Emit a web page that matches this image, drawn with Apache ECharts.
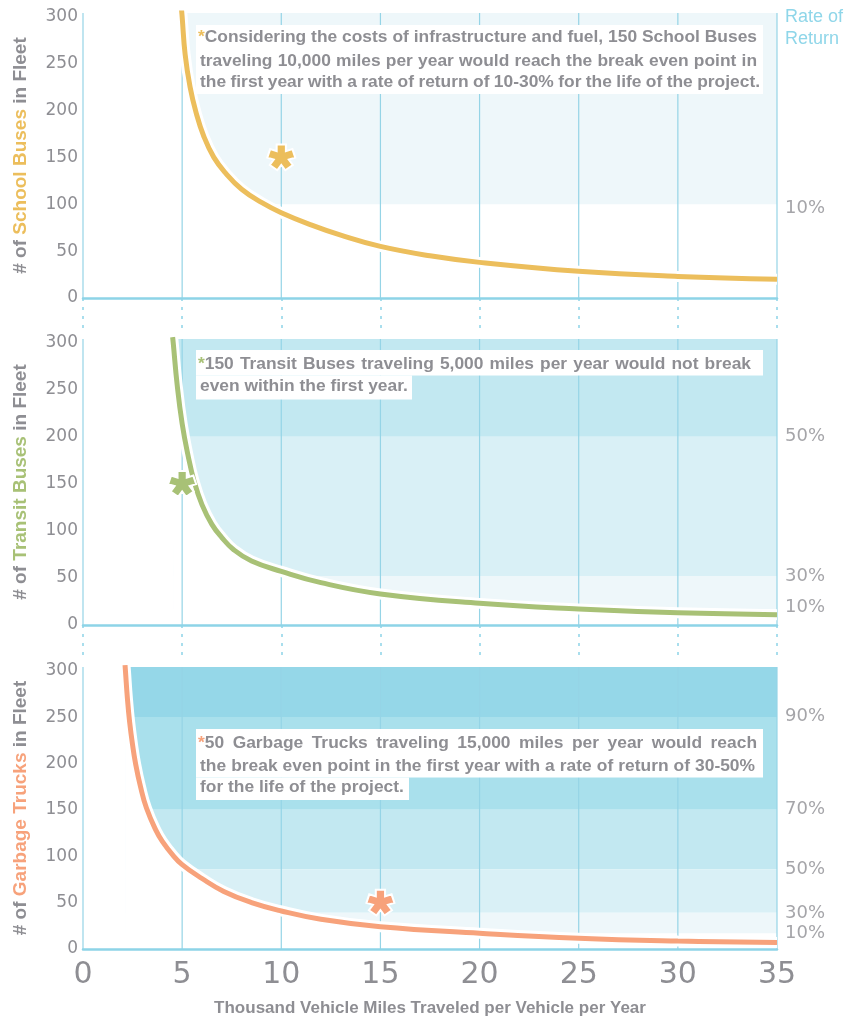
<!DOCTYPE html>
<html><head><meta charset="utf-8">
<script src="https://cdn.jsdelivr.net/npm/echarts@6/dist/echarts.min.js"></script>
<style>html,body{margin:0;padding:0;background:#fff}#c{width:850px;height:1018px}</style>
</head><body><div id="c"></div><script>
// ---------- data ----------
const xTicks = [0, 5, 10, 15, 20, 25, 30, 35];
const yTicks = [0, 50, 100, 150, 200, 250, 300];

const schoolX = [4.95, 5.0, 5.15, 5.4, 5.7, 6.1, 6.6, 7.2, 8.0, 9.0, 10, 11.5, 13, 15, 17.5, 20, 25, 30, 35];
const schoolY = [312, 300, 260, 225, 198, 172, 150, 133, 116, 102, 91, 78, 67, 55, 45, 38, 28.5, 23, 20];

const transitX = [4.52, 4.55, 4.75, 5.0, 5.3, 5.6, 6.0, 6.5, 7.0, 7.6, 8.5, 10, 12, 15, 20, 25, 30, 35];
const transitY = [306, 300, 255, 214, 180, 153, 128, 107, 93, 80, 68, 57, 45, 33, 23, 17, 13, 11];

const garbageX = [2.12, 2.14, 2.24, 2.35, 2.5, 2.65, 2.9, 3.2, 3.7, 4.0, 4.5, 5, 6, 7.1, 8.5, 10, 12, 15, 20, 25, 30, 35];
const garbageY = [306, 300, 270, 245, 220, 200, 175, 152, 127, 116, 102, 91, 76, 62, 50, 41, 32, 24, 17, 11.5, 8.5, 7];

// rate-of-return bands [lower, upper]
const schoolBands = [[100, 304]];
const transitBands = [[200, 304], [52, 200], [17, 52]];
const garbageBands = [[250, 304], [150, 250], [86, 150], [39, 86], [17, 39]];
const schoolBandColors = ['#eef7fa'];
const transitBandColors = ['#c2e8f1', '#d9f0f6', '#eef7fa'];
const garbageBandColors = ['#95d7e8', '#a9e0ec', '#c2e8f1', '#d9f0f6', '#eef7fa'];

const schoolRateLevels = [96];
const schoolRateLabels = ['10%'];
const transitRateLevels = [200.5, 52, 19];
const transitRateLabels = ['50%', '30%', '10%'];
const garbageRateLevels = [250.5, 150.5, 85.7, 38.7, 17.4];
const garbageRateLabels = ['90%', '70%', '50%', '30%', '10%'];

const schoolStar = [10, 150];
const transitStar = [5, 150];
const garbageStar = [15, 50];

const schoolNote = [
  'Considering the costs of infrastructure and fuel, 150 School Buses',
  'traveling 10,000 miles per year would reach the break even point in',
  'the first year with a rate of return of 10-30% for the life of the project.'
];
const transitNote = [
  '150 Transit Buses traveling 5,000 miles per year would not break',
  'even within the first year.'
];
const garbageNote = [
  '50 Garbage Trucks traveling 15,000 miles per year would reach',
  'the break even point in the first year with a rate of return of 30-50%',
  'for the life of the project.'
];

// ---------- style ----------
const GRAY = '#8e8e93';
const BLUE = '#8dd4e7';
const GRID_LINE = '#95d4e6';
const YELLOW = '#ecbe5c', GREEN = '#a8c176', ORANGE = '#f7a27b';
const X_MIN = 0, X_MAX = 35, Y_MAX = 304;
const NUM_FONT = 'DejaVu Sans';
const TXT_FONT = 'Liberation Sans';
const SMOOTH = 0.45;

const panels = [
  {top: 13, height: 285, x: schoolX, y: schoolY, bands: schoolBands, colors: schoolBandColors,
   rl: schoolRateLevels, rt: schoolRateLabels, star: schoolStar, color: YELLOW, name: 'School Buses'},
  {top: 339, height: 286, x: transitX, y: transitY, bands: transitBands, colors: transitBandColors,
   rl: transitRateLevels, rt: transitRateLabels, star: transitStar, color: GREEN, name: 'Transit Buses'},
  {top: 667, height: 286, x: garbageX, y: garbageY, bands: garbageBands, colors: garbageBandColors,
   rl: garbageRateLevels, rt: garbageRateLabels, star: garbageStar, color: ORANGE, name: 'Garbage Trucks'}
];

// 5-armed asterisk symbol
function asteriskPath() {
  const L = 100, w = 35, d = w / Math.sin(Math.PI / 5);
  const pts = [];
  for (let i = 0; i < 5; i++) {
    const a = i * 2 * Math.PI / 5;
    const ux = Math.sin(a), uy = -Math.cos(a), vx = Math.cos(a), vy = Math.sin(a);
    pts.push([L * ux - w * vx, L * uy - w * vy]);
    pts.push([L * ux + w * vx, L * uy + w * vy]);
    const b = a + Math.PI / 5;
    pts.push([d * Math.sin(b), -d * Math.cos(b)]);
  }
  return 'path://M' + pts.map(p => p[0].toFixed(2) + ',' + p[1].toFixed(2)).join('L') + 'Z';
}
const STAR = asteriskPath();

const grid = [], xAxis = [], yAxis = [], series = [];
panels.forEach((p, gi) => {
  grid.push({left: 83, right: 73, top: p.top, height: p.height});
  const last = gi === 2;
  xAxis.push({
    type: 'value', gridIndex: gi, min: X_MIN, max: X_MAX, interval: 5, z: 10,
    axisLine: {show: true, onZero: false, lineStyle: {color: BLUE, width: 2.5}},
    axisTick: {show: !last, length: 36, lineStyle: {color: BLUE, width: 1.5, type: [3, 6]}},
    splitLine: {show: false},
    axisLabel: {show: last, fontFamily: NUM_FONT, fontSize: 30, color: GRAY, margin: 11},
    name: last ? 'Thousand Vehicle Miles Traveled per Vehicle per Year' : '',
    nameLocation: 'middle', nameGap: 51,
    nameTextStyle: {fontFamily: TXT_FONT, fontWeight: 'bold', fontSize: 17, color: GRAY}
  });
  yAxis.push({
    type: 'value', gridIndex: gi, min: 0, max: Y_MAX, interval: 50,
    axisLine: {show: false}, axisTick: {show: false}, splitLine: {show: false},
    axisLabel: {fontFamily: NUM_FONT, fontSize: 17, color: GRAY, margin: 5,
      formatter: v => (yTicks.indexOf(v) >= 0 ? String(v) : '')},
    name: '{g|# of }{c|' + p.name + '}{g| in Fleet}',
    nameLocation: 'middle', nameRotate: 90, nameGap: 53,
    nameTextStyle: {rich: {
      g: {fontFamily: TXT_FONT, fontWeight: 'bold', fontSize: 19, color: GRAY},
      c: {fontFamily: TXT_FONT, fontWeight: 'bold', fontSize: 19, color: p.color}
    }}
  });
  const pts = p.x.map((x, i) => [x, p.y[i]]);
  const xStart = p.x[0] + 0.04;
  // bands
  series.push({
    type: 'custom', xAxisIndex: gi, yAxisIndex: gi, z: 1, silent: true, clip: true,
    data: p.bands.map((b, i) => [b[0], b[1], i]),
    renderItem: (params, api) => {
      const lo = api.value(0), hi = api.value(1), i = api.value(2);
      const a = api.coord([xStart, hi]), b = api.coord([X_MAX, lo]);
      return {type: 'rect', shape: {x: a[0], y: a[1], width: b[0] - a[0], height: b[1] - a[1]},
        style: {fill: p.colors[i]}};
    }
  });
  // white area under the curve
  series.push({
    type: 'line', xAxisIndex: gi, yAxisIndex: gi, z: 2, silent: true, data: pts,
    smooth: SMOOTH, symbol: 'none',
    lineStyle: {width: 0, opacity: 0}, areaStyle: {color: '#fff', opacity: 1}
  });
  // vertical grid lines
  series.push({
    type: 'custom', xAxisIndex: gi, yAxisIndex: gi, z: 3, silent: true, clip: false,
    data: xTicks.map(x => [x]),
    renderItem: (params, api) => {
      const a = api.coord([api.value(0), 0]), b = api.coord([api.value(0), Y_MAX]);
      return {type: 'line', shape: {x1: a[0], y1: a[1], x2: b[0], y2: b[1]},
        style: {stroke: GRID_LINE, lineWidth: 1.2}};
    }
  });
  // white halo
  series.push({
    type: 'line', xAxisIndex: gi, yAxisIndex: gi, z: 4, silent: true, data: pts,
    smooth: SMOOTH, symbol: 'none', lineStyle: {color: '#fff', width: 11}
  });
  // curve
  series.push({
    type: 'line', xAxisIndex: gi, yAxisIndex: gi, z: 5, silent: true, data: pts,
    smooth: SMOOTH, symbol: 'none', lineStyle: {color: p.color, width: 5, cap: 'butt'}
  });
  // star
  series.push({
    type: 'scatter', xAxisIndex: gi, yAxisIndex: gi, z: 6, silent: true, data: [p.star],
    symbol: STAR, symbolSize: [28, 27], symbolKeepAspect: true,
    itemStyle: {color: p.color, opacity: 1, borderColor: '#fff', borderWidth: 2}
  });
  // rate labels
  series.push({
    type: 'scatter', xAxisIndex: gi, yAxisIndex: gi, z: 6, silent: true, clip: false,
    data: p.rl.map(v => [X_MAX, v]), symbolSize: 0,
    label: {show: true, position: 'right', distance: 8, fontFamily: NUM_FONT, fontSize: 18, color: GRAY,
      formatter: prm => p.rt[prm.dataIndex]}
  });
});

// ---------- annotation boxes (justified text) ----------
const ANN_SIZE = 17.4;
const annFont = 'bold ' + ANN_SIZE + 'px "' + TXT_FONT + '"';
const mctx = document.createElement('canvas').getContext('2d');
function tw(t) { mctx.font = annFont; return mctx.measureText(t).width; }

const notes = [
  {boxes: [[196, 25, 567, 69]], text: schoolNote, color: YELLOW,
   lines: [[198, 757, 43.3], [200, 757, 66.7], [200, 760, 88.3]]},
  {boxes: [[196, 350, 567, 25.5], [196, 375.5, 216, 24]], text: transitNote, color: GREEN,
   lines: [[198, 751, 370], [200, null, 391.7]]},
  {boxes: [[196, 729, 567, 48.5], [196, 777.5, 213, 22.5]], text: garbageNote, color: ORANGE,
   lines: [[198, 757, 749], [200, 755, 771.7], [200, null, 793.3]]}
];
const graphic = [];
const MID = 5.9;
notes.forEach(n => {
  n.boxes.forEach(b => graphic.push({type: 'rect', z: 100, shape: {x: b[0], y: b[1], width: b[2], height: b[3]},
    style: {fill: '#fff'}}));
  n.text.forEach((line, li) => {
    const [x0, x1, base] = n.lines[li];
    const y = base - MID;
    const words = line.split(' ');
    const starW = li === 0 ? tw('*') : 0;
    if (li === 0) {
      graphic.push({type: 'text', z: 101, x: x0, y: y,
        style: {text: '*', font: annFont, fill: n.color, textVerticalAlign: 'middle', verticalAlign: 'middle'}});
    }
    if (x1 == null) {
      graphic.push({type: 'text', z: 101, x: x0 + starW, y: y,
        style: {text: line, font: annFont, fill: GRAY, textVerticalAlign: 'middle', verticalAlign: 'middle'}});
      return;
    }
    const ws = words.map(w => tw(w));
    const sum = ws.reduce((a, b) => a + b, 0) + starW;
    const gap = (x1 - x0 - sum) / (words.length - 1);
    let x = x0 + starW;
    words.forEach((w, wi) => {
      graphic.push({type: 'text', z: 101, x: x, y: y,
        style: {text: w, font: annFont, fill: GRAY, textVerticalAlign: 'middle', verticalAlign: 'middle'}});
      x += ws[wi] + gap;
    });
  });
});
// Rate of Return title
graphic.push({type: 'text', z: 101, x: 785, y: 17,
  style: {text: 'Rate of', font: '18px "' + TXT_FONT + '"', fill: '#8fd6e9', textVerticalAlign: 'middle', verticalAlign: 'middle'}});
graphic.push({type: 'text', z: 101, x: 785, y: 39,
  style: {text: 'Return', font: '18px "' + TXT_FONT + '"', fill: '#8fd6e9', textVerticalAlign: 'middle', verticalAlign: 'middle'}});

const chart = echarts.init(document.getElementById('c'), null, {renderer: 'canvas'});
chart.setOption({
  backgroundColor: '#fff', animation: false,
  grid, xAxis, yAxis, series, graphic
});
</script></body></html>
